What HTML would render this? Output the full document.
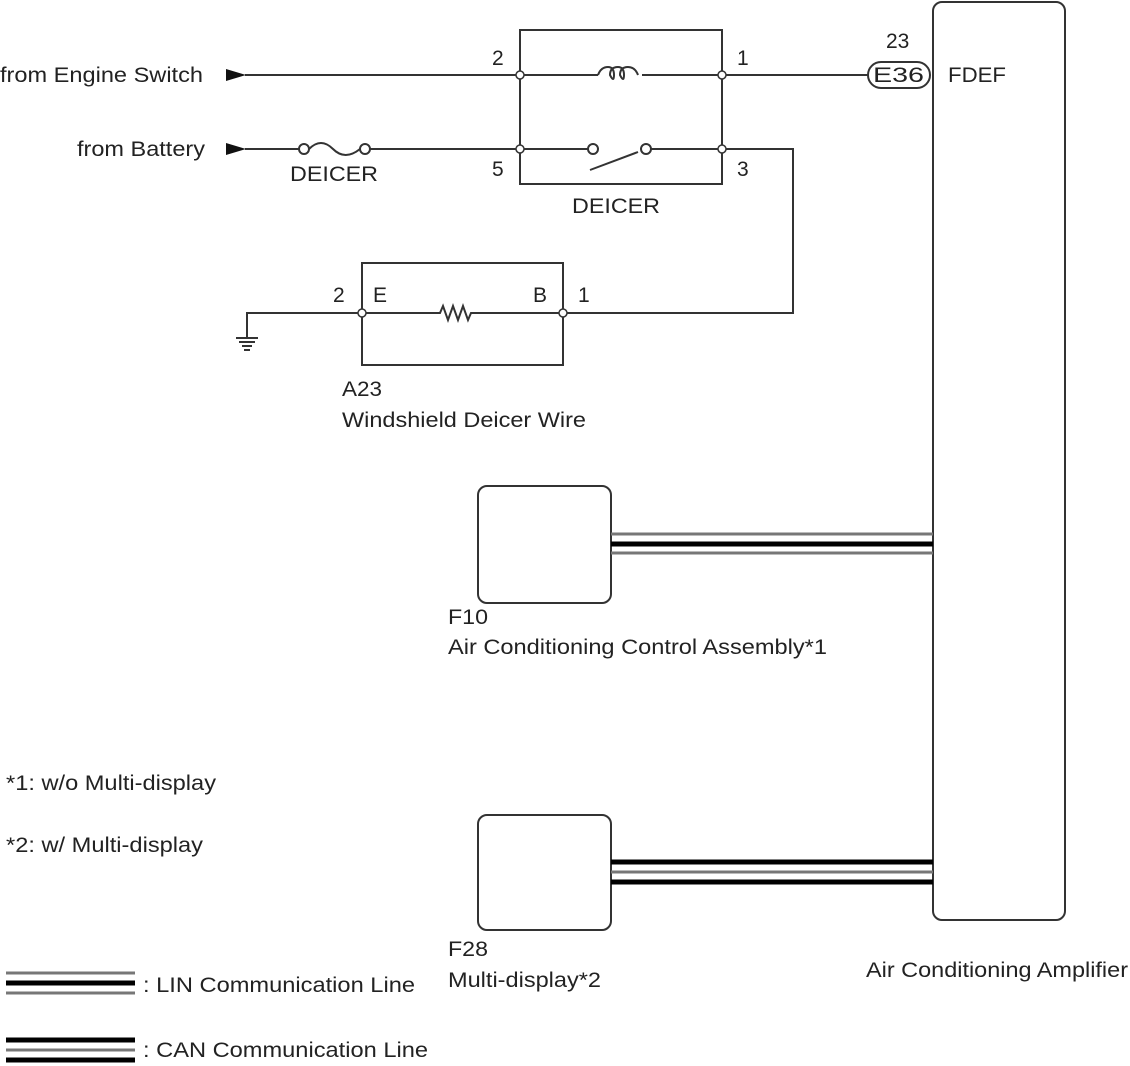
<!DOCTYPE html>
<html><head><style>body{margin:0;background:#fff}svg{display:block}text{font-family:"Liberation Sans",sans-serif;font-size:21px;fill:#222}</style></head><body>
<svg width="1130" height="1066" viewBox="0 0 1130 1066" xmlns="http://www.w3.org/2000/svg">
<g stroke="#333" stroke-width="2" fill="none">
<rect x="520" y="30" width="202" height="154"/>
<line x1="245" y1="75" x2="598" y2="75"/><line x1="642" y1="75" x2="868" y2="75"/>
<path d="M598 75 q3-8 10-8 q6 0 6 8 q0 8 -4 0 q0-8 8-8 q6 0 6 8 q0 8-4 0 q0-8 8-8 q7 0 10 8"/>
<line x1="245" y1="149" x2="299" y2="149"/><line x1="370" y1="149" x2="588" y2="149"/>
<path d="M309 149 q12-12 24 0 t27 0"/>
<circle cx="304" cy="149" r="5" fill="#fff"/><circle cx="365" cy="149" r="5" fill="#fff"/>
<circle cx="593" cy="149" r="5" fill="#fff"/><circle cx="646" cy="149" r="5" fill="#fff"/>
<line x1="590" y1="170" x2="638" y2="152"/>
<path d="M651 149 H793 V313 H563"/>
<rect x="362" y="263" width="201" height="102"/>
<path d="M362 313 H440 l3 -7 l5 14 l5 -14 l5 14 l5 -14 l5 14 l3 -7 H563"/>
<path d="M362 313 H247 V338"/>
<line x1="236" y1="338" x2="258" y2="338"/><line x1="239" y1="342" x2="255" y2="342"/><line x1="242" y1="346" x2="252" y2="346"/><line x1="244" y1="350" x2="250" y2="350"/>
<rect x="868" y="62" width="62" height="26" rx="13" fill="#fff"/>
<rect x="933" y="2" width="132" height="918" rx="9"/>
<rect x="478" y="486" width="133" height="117" rx="9"/>
<rect x="478" y="815" width="133" height="115" rx="9"/>
</g>
<g fill="#fff" stroke="#333" stroke-width="1.5">
<circle cx="520" cy="75" r="4"/><circle cx="722" cy="75" r="4"/><circle cx="520" cy="149" r="4"/><circle cx="722" cy="149" r="4"/>
<circle cx="362" cy="313" r="4"/><circle cx="563" cy="313" r="4"/>
</g>
<path d="M226 69 L246 75 L226 81 Z" fill="#111"/><path d="M226 143 L246 149 L226 155 Z" fill="#111"/>
<g>
<line x1="611" y1="534" x2="933" y2="534" stroke="#777" stroke-width="3"/>
<line x1="611" y1="544" x2="933" y2="544" stroke="#000" stroke-width="5"/>
<line x1="611" y1="553" x2="933" y2="553" stroke="#777" stroke-width="3"/>
<line x1="611" y1="862" x2="933" y2="862" stroke="#000" stroke-width="5"/>
<line x1="611" y1="872" x2="933" y2="872" stroke="#777" stroke-width="3"/>
<line x1="611" y1="882" x2="933" y2="882" stroke="#000" stroke-width="5"/>
<line x1="6" y1="973" x2="135" y2="973" stroke="#777" stroke-width="3"/>
<line x1="6" y1="983" x2="135" y2="983" stroke="#000" stroke-width="5"/>
<line x1="6" y1="993" x2="135" y2="993" stroke="#777" stroke-width="3"/>
<line x1="6" y1="1040" x2="135" y2="1040" stroke="#000" stroke-width="5"/>
<line x1="6" y1="1050" x2="135" y2="1050" stroke="#777" stroke-width="3"/>
<line x1="6" y1="1060" x2="135" y2="1060" stroke="#000" stroke-width="5"/>
</g>
<text x="0" y="82" textLength="203" lengthAdjust="spacingAndGlyphs">from Engine Switch</text>
<text x="77" y="156" textLength="128" lengthAdjust="spacingAndGlyphs">from Battery</text>
<text x="290" y="181" textLength="88" lengthAdjust="spacingAndGlyphs">DEICER</text>
<text x="572" y="213" textLength="88" lengthAdjust="spacingAndGlyphs">DEICER</text>
<text x="492" y="65">2</text><text x="737" y="65">1</text>
<text x="492" y="176">5</text><text x="737" y="176">3</text>
<text x="886" y="48">23</text>
<text x="873" y="82" textLength="51" lengthAdjust="spacingAndGlyphs">E36</text>
<text x="948" y="82" textLength="58" lengthAdjust="spacingAndGlyphs">FDEF</text>
<text x="333" y="302">2</text><text x="373" y="302">E</text>
<text x="533" y="302">B</text><text x="578" y="302">1</text>
<text x="342" y="396" textLength="40" lengthAdjust="spacingAndGlyphs">A23</text>
<text x="342" y="427" textLength="244" lengthAdjust="spacingAndGlyphs">Windshield Deicer Wire</text>
<text x="448" y="624" textLength="40" lengthAdjust="spacingAndGlyphs">F10</text>
<text x="448" y="654" textLength="379" lengthAdjust="spacingAndGlyphs">Air Conditioning Control Assembly*1</text>
<text x="6" y="790" textLength="210" lengthAdjust="spacingAndGlyphs">*1: w/o Multi-display</text>
<text x="6" y="852" textLength="197" lengthAdjust="spacingAndGlyphs">*2: w/ Multi-display</text>
<text x="448" y="956" textLength="40" lengthAdjust="spacingAndGlyphs">F28</text>
<text x="448" y="987" textLength="153" lengthAdjust="spacingAndGlyphs">Multi-display*2</text>
<text x="866" y="977" textLength="262" lengthAdjust="spacingAndGlyphs">Air Conditioning Amplifier</text>
<text x="143" y="992" textLength="272" lengthAdjust="spacingAndGlyphs">: LIN Communication Line</text>
<text x="143" y="1057" textLength="285" lengthAdjust="spacingAndGlyphs">: CAN Communication Line</text>
</svg>
</body></html>
